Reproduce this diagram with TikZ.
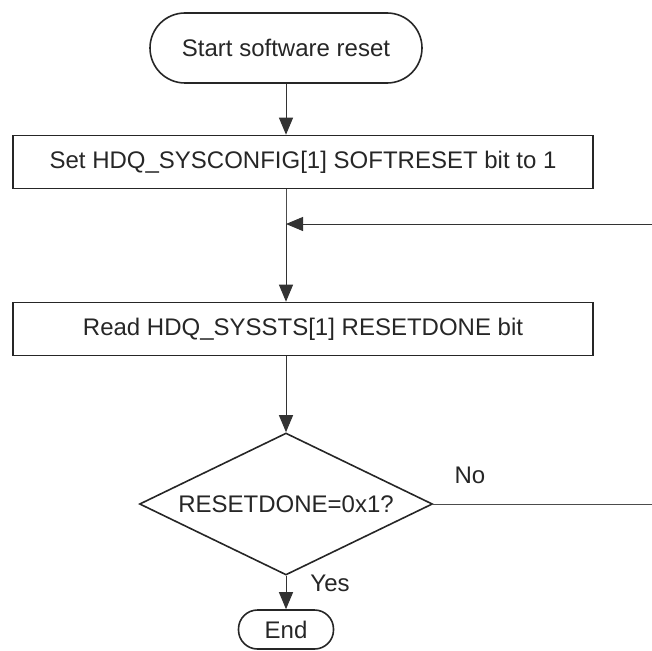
\documentclass[tikz,border=0pt]{standalone}
\usepackage{fontspec}
\setmainfont{Liberation Sans}
\usetikzlibrary{shapes.geometric,arrows.meta}
\begin{document}
\begin{tikzpicture}[x=1pt,y=-1pt,
  every node/.style={font=\fontsize{24}{28}\selectfont, text=black!85},
  term/.style={draw=black!85, line width=1.6pt, rectangle, rounded corners=#1, inner sep=0pt},
  procbox/.style={draw=black!85, line width=1.6pt, rectangle, minimum width=580pt, minimum height=53pt, inner sep=0pt},
  decis/.style={draw=black!85, line width=1.6pt, diamond, aspect=2.06, minimum width=293pt, minimum height=142pt, inner sep=0pt},
  flow/.style={draw=black!80, line width=1pt, -{Triangle[length=17pt,width=14pt]}},
  plain/.style={draw=black!70, line width=1pt},
  lbl/.style={inner sep=0pt}
]
\useasboundingbox (0,0) rectangle (652,650);
\node[term=35pt, minimum width=272pt, minimum height=70pt] (start) at (286,48) {Start software reset};
\node[procbox] (set) at (303,162) {Set HDQ\_SYSCONFIG[1] SOFTRESET bit to 1};
\node[procbox] (read) at (303,329) {Read HDQ\_SYSSTS[1] RESETDONE bit};
\node[decis] (dec) at (286,504) {RESETDONE=0x1?};
\node[term=19pt, minimum width=95pt, minimum height=39pt] (end) at (286,629.5) {End};
\coordinate (merge) at (286,224);
\coordinate (loopin) at (652,224);
\coordinate (noout) at (652,504);
\draw[flow] (start.south -| merge) -- (set.north -| merge);
\draw[plain] (set.south -| merge) -- (merge);
\draw[flow] (merge) -- (read.north -| merge);
\draw[flow] (loopin) -- (merge);
\draw[flow] (read.south -| merge) -- (dec.north);
\draw[plain] (dec.east) -- (noout);
\draw[flow] (dec.south) -- (end.north);
\node[lbl] (no) at (470,475) {No};
\node[lbl] (yes) at (330,583) {Yes};
\end{tikzpicture}
\end{document}
